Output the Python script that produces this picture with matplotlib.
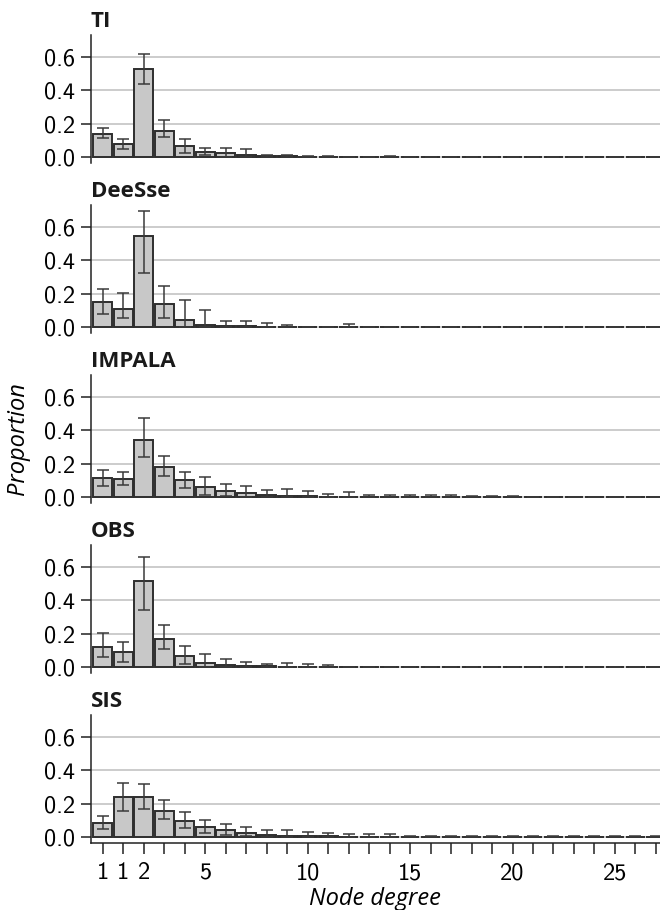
import numpy as np
import matplotlib
matplotlib.use("Agg")
import matplotlib.pyplot as plt

# panel names, top to bottom
panels = ["TI", "DeeSse", "IMPALA", "OBS", "SIS"]

# bar index 0..27 (node degree bins)
n_bins = 28
tick_labels = {0: "1", 1: "1", 2: "2", 5: "5", 10: "10", 15: "15", 20: "20", 25: "25"}

# proportions (bar heights)
ti_val = [0.14, 0.08, 0.526, 0.158, 0.064, 0.03, 0.022, 0.014, 0.006, 0.004, 0.002, 0.003,
          0.001, 0.001, 0.002, 0, 0, 0, 0, 0, 0, 0, 0, 0, 0, 0, 0, 0]
ti_lo = [0.116, 0.046, 0.44, 0.12, 0.024, 0.01, 0.0, 0.0, 0.0, 0.0, 0.0, 0.0,
         0, 0, 0, 0, 0, 0, 0, 0, 0, 0, 0, 0, 0, 0, 0, 0]
ti_hi = [0.172, 0.11, 0.62, 0.22, 0.106, 0.056, 0.056, 0.05, 0.01, 0.012, 0.006, 0.008,
         0.002, 0.002, 0.008, 0, 0, 0, 0, 0, 0, 0, 0, 0, 0, 0, 0, 0]

dee_val = [0.15, 0.108, 0.546, 0.138, 0.044, 0.014, 0.008, 0.004, 0.002, 0.001, 0, 0,
           0.002, 0, 0, 0, 0, 0, 0, 0, 0, 0, 0, 0, 0, 0, 0, 0]
dee_lo = [0.08, 0.052, 0.326, 0.052, 0.0, 0.0, 0.0, 0.0, 0.0, 0.0, 0, 0,
          0, 0, 0, 0, 0, 0, 0, 0, 0, 0, 0, 0, 0, 0, 0, 0]
dee_hi = [0.23, 0.202, 0.696, 0.246, 0.164, 0.102, 0.038, 0.038, 0.024, 0.012, 0, 0,
          0.016, 0, 0, 0, 0, 0, 0, 0, 0, 0, 0, 0, 0, 0, 0, 0]

imp_val = [0.114, 0.108, 0.342, 0.178, 0.102, 0.062, 0.036, 0.022, 0.014, 0.008, 0.004, 0.003,
           0.003, 0.002, 0.002, 0.002, 0.002, 0.002, 0.001, 0.001, 0.001, 0, 0, 0, 0, 0, 0, 0]
imp_lo = [0.068, 0.072, 0.238, 0.124, 0.056, 0.014, 0.006, 0.0, 0.0, 0.0, 0.0, 0.0,
          0, 0, 0, 0, 0, 0, 0, 0, 0, 0, 0, 0, 0, 0, 0, 0]
imp_hi = [0.162, 0.148, 0.474, 0.246, 0.15, 0.12, 0.078, 0.064, 0.042, 0.05, 0.036, 0.02,
          0.032, 0.012, 0.012, 0.01, 0.01, 0.01, 0.006, 0.006, 0.006, 0, 0, 0, 0, 0, 0, 0]

obs_val = [0.12, 0.088, 0.516, 0.168, 0.066, 0.026, 0.012, 0.006, 0.004, 0.003, 0.002, 0.001,
           0, 0, 0, 0, 0, 0, 0, 0, 0, 0, 0, 0, 0, 0, 0, 0]
obs_lo = [0.06, 0.03, 0.342, 0.108, 0.02, 0.0, 0.0, 0.0, 0.0, 0.0, 0.0, 0.0,
          0, 0, 0, 0, 0, 0, 0, 0, 0, 0, 0, 0, 0, 0, 0, 0]
obs_hi = [0.204, 0.152, 0.66, 0.252, 0.128, 0.076, 0.05, 0.03, 0.018, 0.024, 0.018, 0.01,
          0, 0, 0, 0, 0, 0, 0, 0, 0, 0, 0, 0, 0, 0, 0, 0]

sis_val = [0.086, 0.238, 0.238, 0.154, 0.098, 0.06, 0.04, 0.024, 0.014, 0.008, 0.005, 0.004,
           0.003, 0.002, 0.002, 0.002, 0.001, 0.001, 0.002, 0.001, 0.001, 0.001, 0.002, 0.002,
           0.001, 0.001, 0.001, 0.001]
sis_lo = [0.05, 0.156, 0.166, 0.108, 0.056, 0.022, 0.012, 0.004, 0.0, 0.0, 0.0, 0.0,
          0, 0, 0, 0, 0, 0, 0, 0, 0, 0, 0, 0, 0, 0, 0, 0]
sis_hi = [0.126, 0.322, 0.318, 0.222, 0.152, 0.102, 0.078, 0.06, 0.044, 0.044, 0.032, 0.022,
          0.02, 0.018, 0.018, 0.008, 0.008, 0.006, 0.008, 0.006, 0.006, 0.006, 0.008, 0.008,
          0.006, 0.006, 0.006, 0.006]

values = [ti_val, dee_val, imp_val, obs_val, sis_val]
lows = [ti_lo, dee_lo, imp_lo, obs_lo, sis_lo]
highs = [ti_hi, dee_hi, imp_hi, obs_hi, sis_hi]

tick_font = "cmss10"
text_font = ["Open Sans", "DejaVu Sans"]

fig = plt.figure(figsize=(6.6, 9.1), dpi=100)
W, H = 660.0, 910.0

x = np.arange(n_bins)
for i, name in enumerate(panels):
    top_px = 35 + 170 * i
    ax = fig.add_axes([90.7 / W, 1 - (top_px + 128) / H, (W - 90.7) / W, 128 / H])
    v = np.array(values[i])
    lo = np.array(lows[i])
    hi = np.array(highs[i])
    yerr = np.vstack([np.clip(v - lo, 0, None), np.clip(hi - v, 0, None)])
    ax.bar(x, v, width=0.92, color="#c8c8c8", edgecolor="#2e2e2e", linewidth=1.4, zorder=2)
    ax.errorbar(x, v, yerr=yerr, fmt="none", ecolor="#3a3a3a", elinewidth=1.1,
                capsize=4.5, capthick=1.1, zorder=3)
    ax.set_xlim(-0.59, 27.2)
    ax.set_ylim(-0.036, 0.732)
    ax.set_yticks([0.0, 0.2, 0.4, 0.6])
    ax.set_yticklabels(["0.0", "0.2", "0.4", "0.6"], fontfamily=tick_font, fontsize=17.5)
    ax.yaxis.grid(True, color="#cccccc", linewidth=1.4, zorder=0)
    ax.set_axisbelow(True)
    ax.tick_params(axis="y", length=7, width=1.1, color="#222222", pad=4)
    for s in ["top", "right"]:
        ax.spines[s].set_visible(False)
    ax.spines["left"].set_linewidth(1.1)
    ax.spines["left"].set_color("#222222")
    ax.set_title(name, loc="left", fontfamily=text_font, fontweight="bold",
                 fontsize=16, pad=6, color="#1a1a1a")
    if i < len(panels) - 1:
        ax.spines["bottom"].set_visible(False)
        ax.set_xticks([])
    else:
        ax.spines["bottom"].set_linewidth(1.1)
        ax.spines["bottom"].set_color("#222222")
        ax.set_xticks(x)
        ax.set_xticklabels([tick_labels.get(k, "") for k in x], fontfamily=tick_font, fontsize=17.5)
        ax.tick_params(axis="x", length=8, width=1.1, color="#222222", pad=6)
        ax.set_xlabel("Node degree", fontfamily=text_font, style="italic", fontsize=17,
                      labelpad=2)

fig.text(18 / W, 1 - 439 / H, "Proportion", rotation=90, ha="center", va="center",
         fontfamily=text_font, style="italic", fontsize=17)

fig.savefig("out.png", dpi=100)
